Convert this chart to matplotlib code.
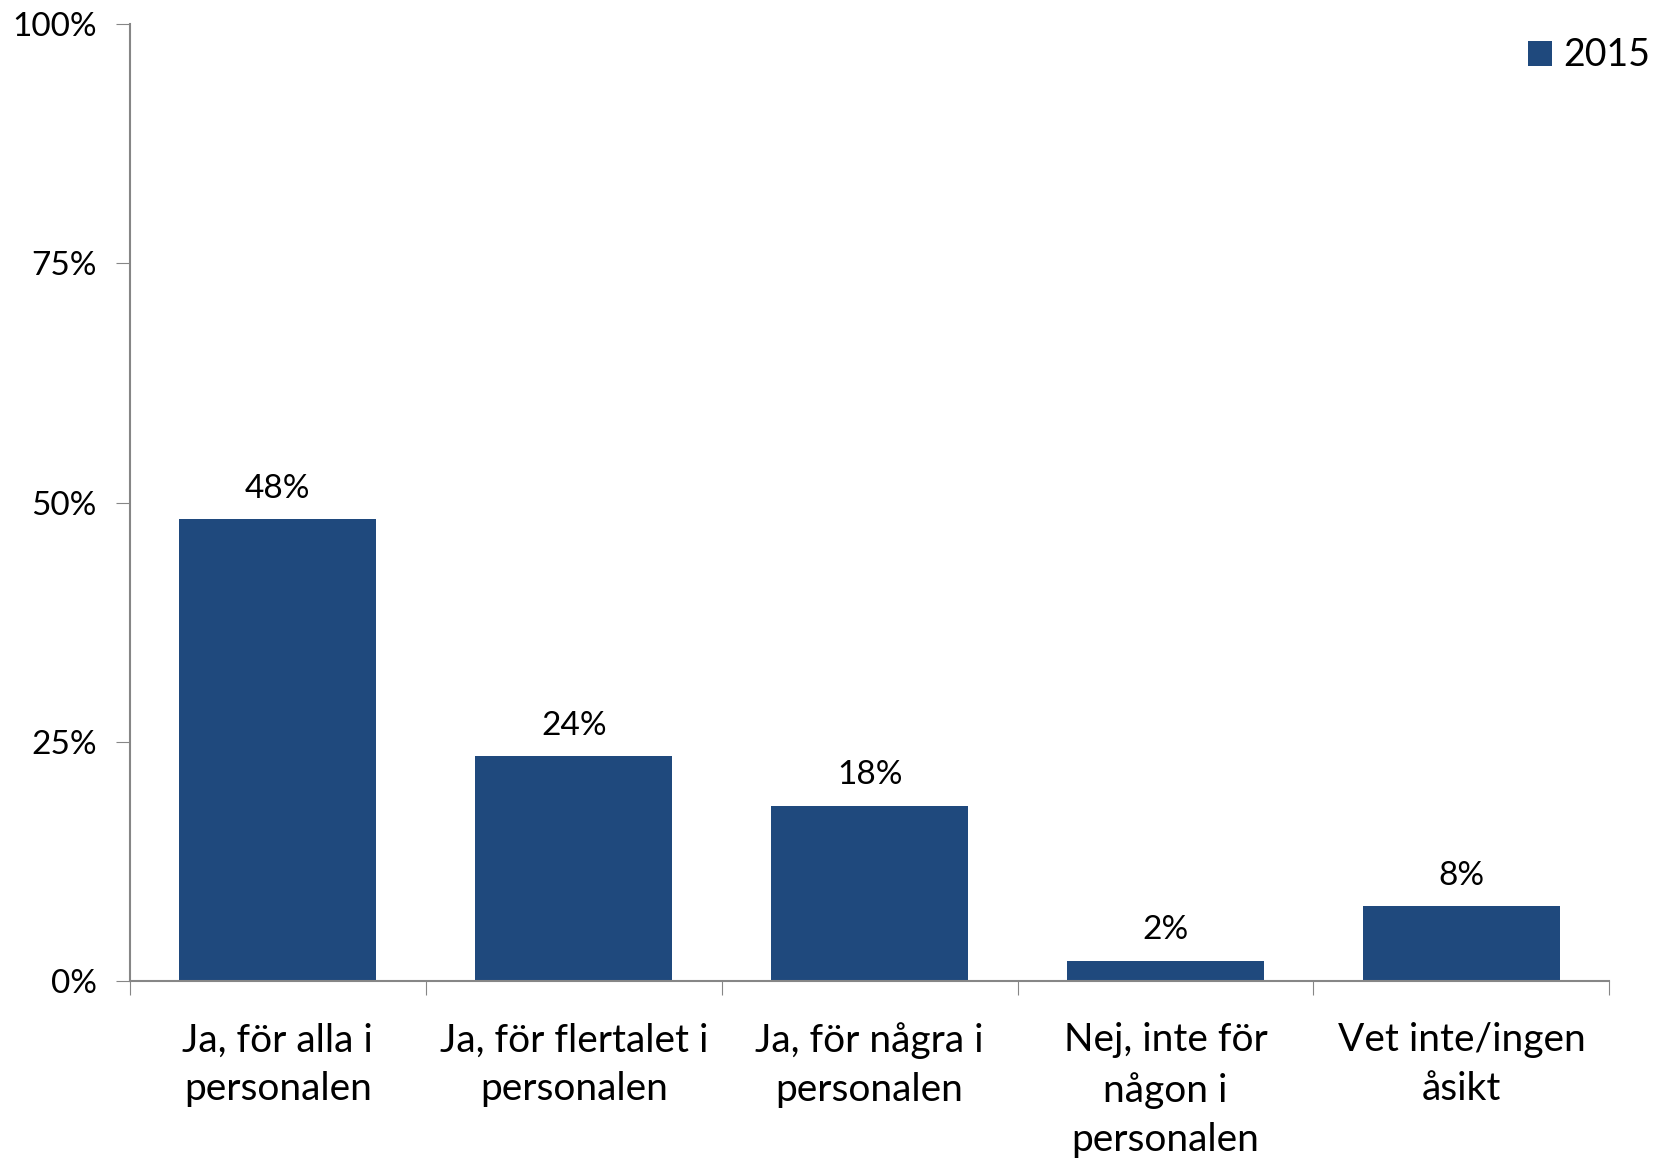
import matplotlib.pyplot as plt
from matplotlib.ticker import FixedLocator

plt.rcParams['font.family'] = ['Lato', 'DejaVu Sans']

categories = ["Ja, för alla i\npersonalen", "Ja, för flertalet i\npersonalen",
              "Ja, för några i\npersonalen", "Nej, inte för\nnågon i\npersonalen",
              "Vet inte/ingen\nåsikt"]
values = [48.3, 23.5, 18.3, 2.1, 7.8]
value_labels = ["48%", "24%", "18%", "2%", "8%"]
yticks = [0, 25, 50, 75, 100]

fig = plt.figure(figsize=(16.53, 11.62), dpi=100)
ax = fig.add_axes([0.0786, 0.156, 0.895, 0.823])

x = range(len(categories))
bars = ax.bar(x, values, width=0.665, color="#1F497D", label="2015", zorder=2)

for xi, v, lab in zip(x, values, value_labels):
    ax.text(xi, v + 1.6, lab, ha="center", va="bottom", fontsize=24)

ax.set_xlim(-0.5, len(categories) - 0.5)
ax.set_ylim(0, 100)
ax.set_yticks(yticks)
ax.set_yticklabels([f"{t}%" for t in yticks], fontsize=24)

ax.xaxis.set_major_locator(FixedLocator([i - 0.5 for i in range(len(categories) + 1)]))
ax.xaxis.set_major_formatter(plt.NullFormatter())
ax.xaxis.set_minor_locator(FixedLocator(list(x)))
ax.set_xticklabels(categories, minor=True, fontsize=28, linespacing=1.45)
ax.tick_params(axis="x", which="minor", length=0, pad=30)
ax.tick_params(axis="x", which="major", length=10, color="#868686", direction="out")
ax.tick_params(axis="y", length=10, color="#868686", direction="out", pad=14)

for s in ["top", "right"]:
    ax.spines[s].set_visible(False)
for s in ["left", "bottom"]:
    ax.spines[s].set_color("#868686")
    ax.spines[s].set_linewidth(1.5)

fig.legend(loc="upper right", bbox_to_anchor=(1.019, 0.997), frameon=False,
           fontsize=27, handlelength=0.65, handleheight=0.65, handletextpad=0.3)

fig.savefig("out.png")
